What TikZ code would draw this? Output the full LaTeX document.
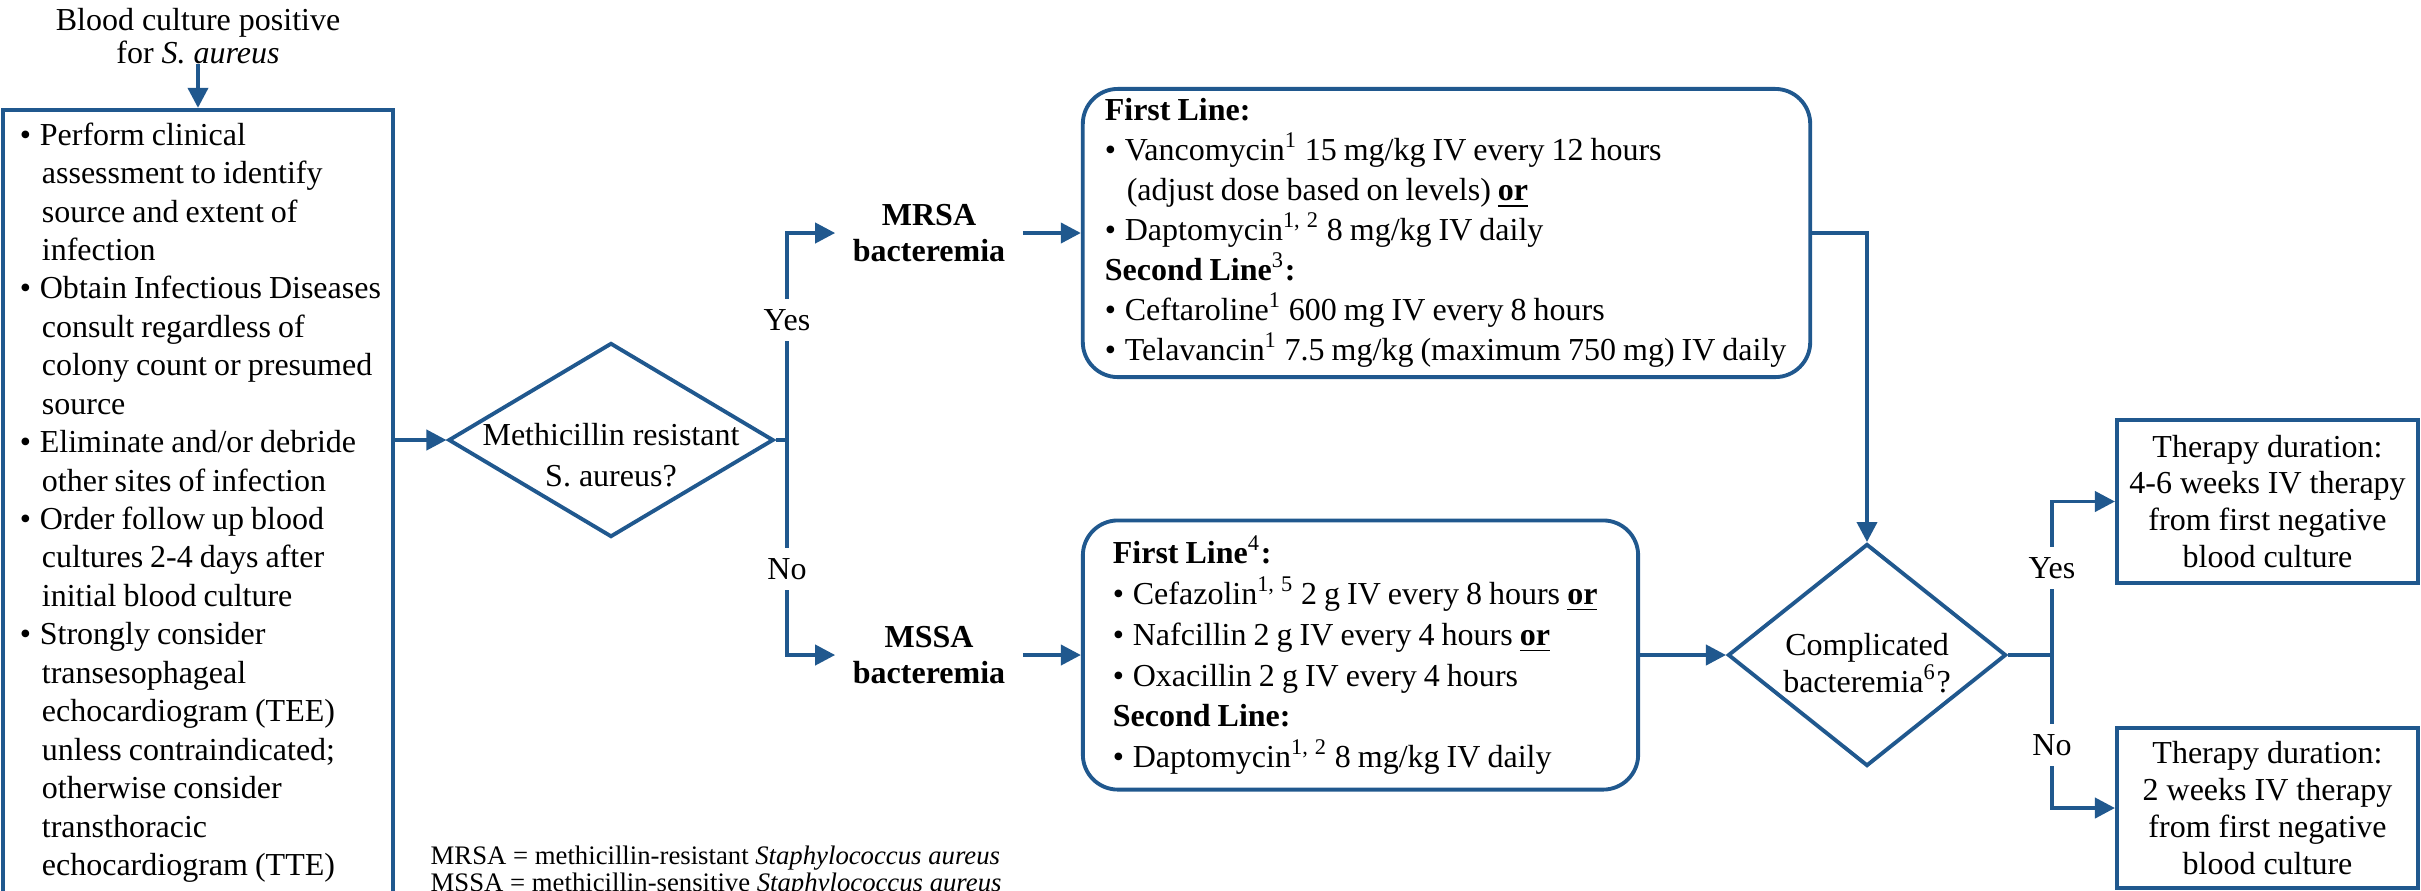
\documentclass[tikz,border=0pt]{standalone}
\usepackage{fontspec}
\setmainfont{Liberation Serif}
\usetikzlibrary{shapes.geometric,arrows.meta,positioning}

\definecolor{flowblue}{RGB}{32,88,142}
\newcommand{\fs}[1]{\fontsize{9.1}{#1}\selectfont}
\newcommand{\bul}{\makebox[0.2cm][l]{\textbullet}}
\newcommand{\cont}{\hspace*{0.22cm}}
\newcommand{\uor}{\underline{\textbf{or}}}

\tikzset{
    box/.style={draw=flowblue, line width=1.1pt, inner ysep=0pt, inner xsep=0.03cm, align=left},
    roundbox/.style={box, rounded corners=0.35cm},
    plainbox/.style={draw=flowblue, line width=1.1pt, align=center, inner sep=0pt},
    decision/.style={diamond, draw=flowblue, line width=1.1pt, inner sep=0pt},
    boxtext/.style={execute at begin node={\setlength{\leftskip}{#1}%
        \setlength{\rightskip}{-0.3cm plus 1fil}\hyphenpenalty=10000
        \spaceskip=2pt plus 1pt minus 0.3pt\relax}},
    flow/.style={draw=flowblue, line width=1.1pt, -{Triangle[length=0.2cm,width=0.2cm]}},
    link/.style={draw=flowblue, line width=1.1pt},
    branch/.style={fill=white, inner xsep=0.03cm, inner ysep=0.1cm, font=\fs{10.9}},
    strain/.style={font=\bfseries\fs{10}, align=center, inner sep=0.17cm}
}

\begin{document}
\begin{tikzpicture}[x=0.01cm, y=-0.01cm]
    \useasboundingbox (0,0) rectangle (2421,890);
    \clip (0,0) rectangle (2421,890);

    % entry and work-up
    \node (start) [align=center, inner sep=0pt, font=\fs{9.2}] at (198,36)
        {Blood culture positive\\for \textit{S. aureus}};
    \node (workup) [box, boxtext=0.14cm, text width=3.84cm, minimum height=7.85cm, font=\fs{10.93}] at (198,502.5) {%
        \bul Perform clinical\\
        \cont assessment to identify\\
        \cont source and extent of\\
        \cont infection\\
        \bul Obtain Infectious Diseases\\
        \cont consult regardless of\\
        \cont colony count or presumed\\
        \cont source\\
        \bul Eliminate and/or debride\\
        \cont other sites of infection\\
        \bul Order follow up blood\\
        \cont cultures 2-4 days after\\
        \cont initial blood culture\\
        \bul Strongly consider\\
        \cont transesophageal\\
        \cont echocardiogram (TEE)\\
        \cont unless contraindicated;\\
        \cont otherwise consider\\
        \cont transthoracic\\
        \cont echocardiogram (TTE)};

    % first decision
    \node (resist) [decision, minimum width=3.25cm, minimum height=1.94cm,
        label={[align=center, font=\fs{11.7}, yshift=-0.15cm]center:{Methicillin resistant\\S. aureus?}}] at (611,440) {};
    \coordinate (fork1) at (787,440);
    \node (mrsa) [strain] at (929,233) {MRSA\\bacteremia};
    \node (mssa) [strain] at (929,655) {MSSA\\bacteremia};

    % treatment boxes
    \node (mrsabox) [roundbox, boxtext=0.19cm, text width=7.21cm, minimum height=2.88cm, font=\fs{11.4}] at (1446.5,233) {%
        \textbf{First Line:}\\
        \bul Vancomycin\textsuperscript{1} 15 mg/kg IV every 12 hours\\
        \cont (adjust dose based on levels) \uor\\
        \bul Daptomycin\textsuperscript{1, 2} 8 mg/kg IV daily\\
        \textbf{Second Line}\textsuperscript{3}\textbf{:}\\
        \bul Ceftaroline\textsuperscript{1} 600 mg IV every 8 hours\\
        \bul Telavancin\textsuperscript{1} 7.5 mg/kg (maximum 750 mg) IV daily};
    \node (mssabox) [roundbox, boxtext=0.27cm, text width=5.49cm, minimum height=2.69cm, font=\fs{11.6}] at (1360.5,655) {%
        \textbf{First Line}\textsuperscript{4}\textbf{:}\\
        \bul Cefazolin\textsuperscript{1, 5} 2 g IV every 8 hours \uor\\
        \bul Nafcillin 2 g IV every 4 hours \uor\\
        \bul Oxacillin 2 g IV every 4 hours\\
        \textbf{Second Line:}\\
        \bul Daptomycin\textsuperscript{1, 2} 8 mg/kg IV daily};

    % second decision and durations
    \node (compl) [decision, minimum width=2.78cm, minimum height=2.22cm,
        label={[align=center, font=\fs{10.6}, yshift=-0.08cm]center:{Complicated\\bacteremia\textsuperscript{6}?}}] at (1867,655) {};
    \coordinate (fork2) at (2052,655);
    \node (longtx) [plainbox, minimum width=3.01cm, minimum height=1.63cm, font=\fs{10.5}] at (2267.5,501.5)
        {Therapy duration:\\4-6 weeks IV therapy\\from first negative\\blood culture};
    \node (shorttx) [plainbox, minimum width=3.01cm, minimum height=1.6cm, font=\fs{10.6}] at (2267.5,808)
        {Therapy duration:\\2 weeks IV therapy\\from first negative\\blood culture};

    \node (abbrev) [anchor=north west, align=left, inner sep=0pt, font=\fontsize{7.6}{7.7}\selectfont] at (430,845)
        {MRSA = methicillin-resistant \textit{Staphylococcus aureus}\\MSSA = methicillin-sensitive \textit{Staphylococcus aureus}};

    % connectors
    \draw[flow] (start) -- (workup);
    \draw[flow] (workup.east |- resist.west) -- (resist.west);
    \draw[link] (resist.east) -- (fork1);
    \draw[flow] (fork1) |- (mrsa.west) node[branch, pos=0.29] {Yes};
    \draw[flow] (fork1) |- (mssa.west) node[branch, pos=0.3] {No};
    \draw[flow] (mrsa) -- (mrsabox);
    \draw[flow] (mssa) -- (mssabox);
    \draw[flow] (mrsabox.east) -| (compl.north);
    \draw[flow] (mssabox.east) -- (compl.west);
    \draw[link] (compl.east) -- (fork2);
    \draw[flow] (fork2) |- (longtx.west) node[branch, pos=0.283] {Yes};
    \draw[flow] (fork2) |- (shorttx.west) node[branch, pos=0.294] {No};
\end{tikzpicture}
\end{document}
